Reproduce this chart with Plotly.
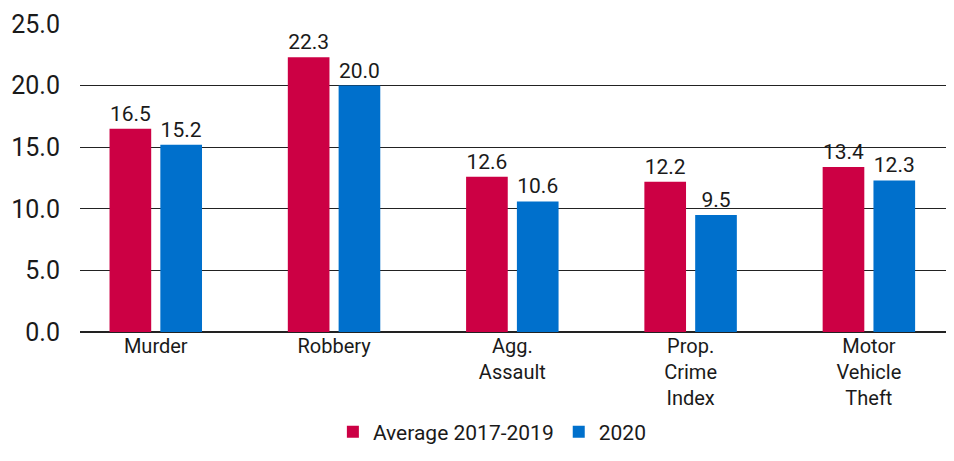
import plotly.graph_objects as go

categories = ["Murder", "Robbery", "Agg.<br>Assault", "Prop.<br>Crime<br>Index", "Motor<br>Vehicle<br>Theft"]
avg_2017_2019 = [16.5, 22.3, 12.6, 12.2, 13.4]
y2020 = [15.2, 20.0, 10.6, 9.5, 12.3]
y_ticks = [0, 5, 10, 15, 20, 25]

RED = "#CC0044"
BLUE = "#0070CC"
FONT = "Roboto"
TXT = "#1a1a1a"

x = list(range(len(categories)))

fig = go.Figure()
fig.add_trace(go.Bar(
    x=x, y=avg_2017_2019, name="Average 2017-2019",
    marker=dict(color=RED, line=dict(width=0)),
    text=[f"{v:.1f}" for v in avg_2017_2019], textposition="outside",
    textfont=dict(family=FONT, size=21, color=TXT), cliponaxis=False,
))
fig.add_trace(go.Bar(
    x=x, y=y2020, name="2020",
    marker=dict(color=BLUE, line=dict(width=0)),
    text=[f"{v:.1f}" for v in y2020], textposition="outside",
    textfont=dict(family=FONT, size=21, color=TXT), cliponaxis=False,
))

fig.update_layout(
    width=954, height=461,
    margin=dict(l=72, r=12, t=16, b=137, autoexpand=False),
    paper_bgcolor="white", plot_bgcolor="white",
    barmode="group", bargap=0.43, bargroupgap=0.18,
    font=dict(family=FONT, color=TXT),
    showlegend=True,
    legend=dict(orientation="h", x=0.474, xanchor="center", y=-0.325, yanchor="middle",
                font=dict(family=FONT, size=21, color=TXT),
                traceorder="normal"),
)
fig.update_xaxes(
    tickmode="array", tickvals=x, ticktext=categories,
    range=[-0.425, 4.455], showgrid=False, zeroline=False, automargin=False,
    showline=False, ticks="", tickfont=dict(family=FONT, size=20, color=TXT),
    tickangle=0,
)
fig.update_yaxes(
    range=[0, 25], tickmode="array", tickvals=y_ticks,
    ticktext=[f"{v:.1f}" for v in y_ticks], automargin=False,
    showgrid=True, gridcolor="#222222", gridwidth=1,
    zeroline=True, zerolinecolor="#222222", zerolinewidth=1.5,
    showline=False, ticks="", ticklabelstandoff=19,
    tickfont=dict(family=FONT, size=25, color=TXT),
)

fig.write_html("out.html")
